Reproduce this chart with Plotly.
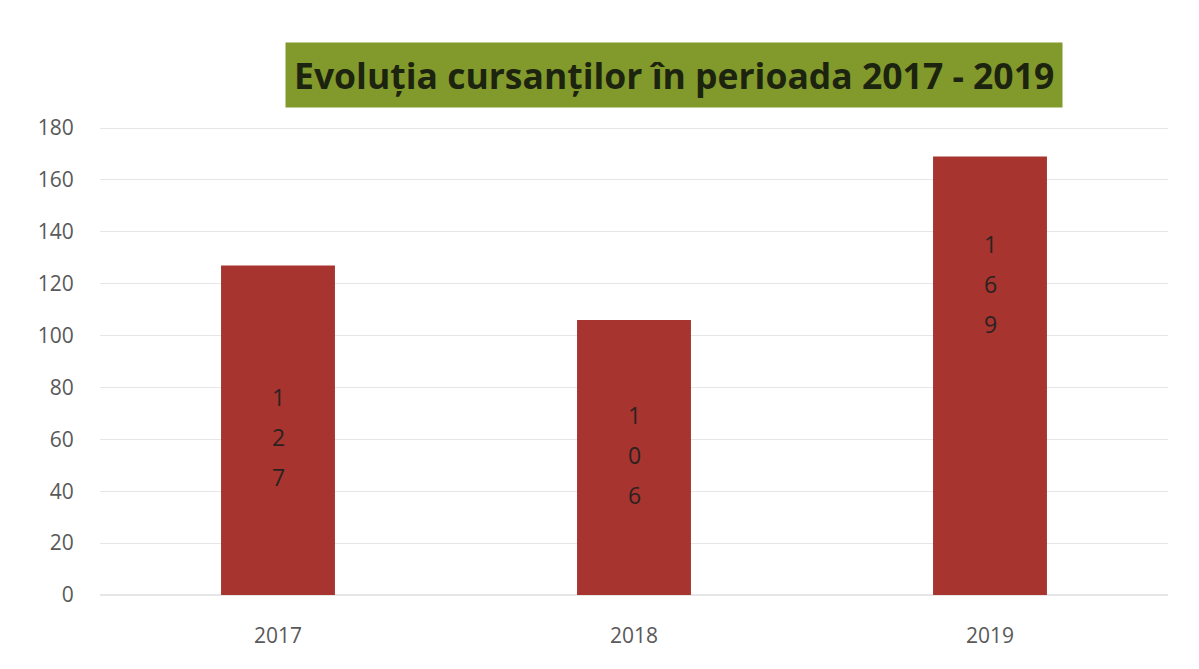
import plotly.graph_objects as go

years = ["2017", "2018", "2019"]
values = [127, 106, 169]
label_frac = [0.48, 0.51, 0.71]  # relative height of the in-bar label centre
yticks = [0, 20, 40, 60, 80, 100, 120, 140, 160, 180]

bar_color = "#A83430"
digit_gap = 40  # px between stacked digits of the in-bar labels

fig = go.Figure()
fig.add_trace(go.Bar(
    x=years, y=values,
    marker=dict(color=bar_color, line=dict(width=0)),
    hoverinfo="x+y",
))

for i, (v, f) in enumerate(zip(values, label_frac)):
    digits = list(str(v))
    n = len(digits)
    for k, d in enumerate(digits):
        fig.add_annotation(
            x=i, y=v * f, xref="x", yref="y",
            yshift=((n - 1) / 2 - k) * digit_gap,
            text=d, showarrow=False,
            font=dict(family="Open Sans, sans-serif", size=23, color="#2a2220"),
        )

fig.add_annotation(
    x=0.5, y=1.0, xref="paper", yref="paper",
    xanchor="center", yanchor="bottom", yshift=19, xshift=40,
    text="<b>Evoluția cursanților în perioada 2017 - 2019</b>",
    showarrow=False,
    font=dict(family="Open Sans, sans-serif", size=35.5, color="#1c2410"),
    bgcolor="#82992C", borderpad=8,
)

fig.update_layout(
    width=1199, height=669,
    margin=dict(l=92, r=39, t=119, b=82),
    paper_bgcolor="white", plot_bgcolor="white",
    showlegend=False,
    bargap=0.68,
    xaxis=dict(
        type="category", range=[-0.5, 2.5],
        tickfont=dict(family="Open Sans, sans-serif", size=21, color="#595959"),
        showgrid=False, showline=False,
        ticks="outside", ticklen=22, tickcolor="rgba(0,0,0,0)",
    ),
    yaxis=dict(
        range=[0, 180.4], tickvals=yticks,
        tickfont=dict(family="Open Sans, sans-serif", size=21, color="#595959"),
        showgrid=True, gridcolor="#e6e6e6", gridwidth=1,
        zeroline=True, zerolinecolor="#e6e6e6", showline=False,
        ticks="outside", ticklen=21, tickcolor="rgba(0,0,0,0)",
    ),
)

fig.write_html("out.html")
